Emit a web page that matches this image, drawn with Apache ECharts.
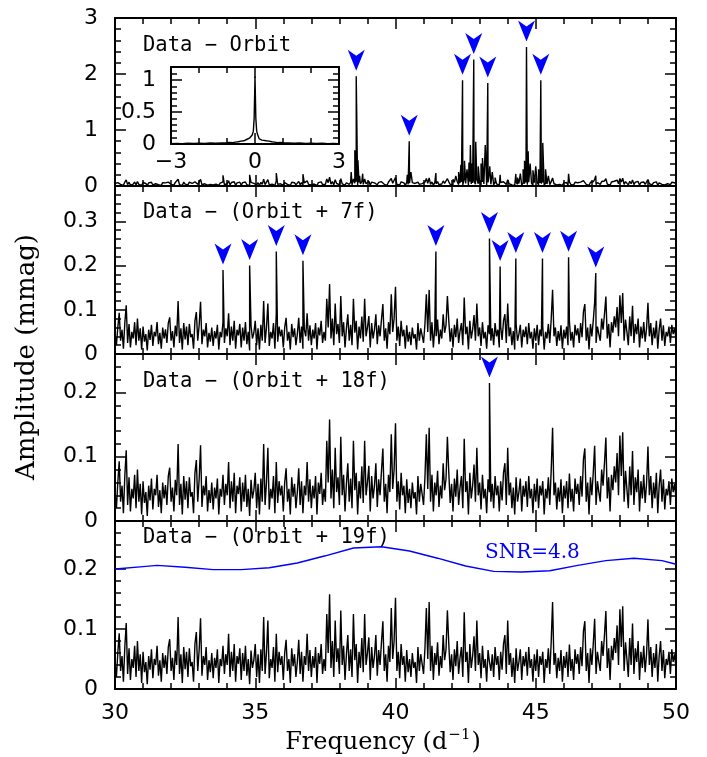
<!DOCTYPE html>
<html>
<head>
<meta charset="utf-8">
<script src="https://cdn.jsdelivr.net/npm/echarts@6/dist/echarts.min.js"></script>
<style>
html, body { margin: 0; padding: 0; background: #fff; }
#chart { width: 707px; height: 757px; }
</style>
</head>
<body>
<div id="chart"></div>
<script>
// residual amplitude spectrum (mmag), 30..50 d-1, step 0.05
var freqStart = 30, freqStep = 0.05;
var noiseAmp = [
  0.045, 0.020, 0.060, 0.093, 0.030, 0.055, 0.012, 0.070, 0.110, 0.025, 0.068, 0.015, 0.050, 0.035, 0.072, 0.020, 0.080, 0.030, 0.058, 0.010,
  0.062, 0.028, 0.045, 0.008, 0.055, 0.032, 0.066, 0.018, 0.050, 0.040, 0.072, 0.022, 0.048, 0.012, 0.060, 0.035, 0.056, 0.025, 0.070, 0.083,
  0.030, 0.052, 0.015, 0.064, 0.040, 0.120, 0.025, 0.058, 0.010, 0.070, 0.033, 0.062, 0.020, 0.068, 0.038, 0.045, 0.012, 0.075, 0.095, 0.030,
  0.065, 0.118, 0.022, 0.055, 0.040, 0.070, 0.015, 0.048, 0.028, 0.060, 0.018, 0.052, 0.035, 0.066, 0.010, 0.050, 0.038, 0.072, 0.025, 0.058,
  0.040, 0.092, 0.020, 0.062, 0.030, 0.075, 0.012, 0.055, 0.042, 0.068, 0.015, 0.060, 0.030, 0.072, 0.022, 0.050, 0.008, 0.064, 0.035, 0.048,
  0.075, 0.020, 0.058, 0.010, 0.066, 0.030, 0.120, 0.025, 0.060, 0.114, 0.018, 0.050, 0.035, 0.070, 0.012, 0.092, 0.028, 0.062, 0.040, 0.055,
  0.015, 0.060, 0.082, 0.030, 0.050, 0.010, 0.068, 0.038, 0.058, 0.020, 0.045, 0.082, 0.025, 0.062, 0.012, 0.055, 0.040, 0.092, 0.030, 0.065,
  0.020, 0.055, 0.035, 0.070, 0.010, 0.060, 0.042, 0.075, 0.025, 0.050, 0.030, 0.125, 0.060, 0.158, 0.035, 0.080, 0.020, 0.114, 0.045, 0.068,
  0.025, 0.131, 0.040, 0.072, 0.015, 0.058, 0.090, 0.030, 0.066, 0.020, 0.125, 0.048, 0.075, 0.010, 0.062, 0.035, 0.085, 0.028, 0.125, 0.040,
  0.060, 0.086, 0.015, 0.070, 0.035, 0.055, 0.090, 0.022, 0.065, 0.040, 0.078, 0.113, 0.030, 0.058, 0.012, 0.072, 0.045, 0.135, 0.050, 0.080,
  0.152, 0.030, 0.062, 0.018, 0.075, 0.040, 0.055, 0.012, 0.065, 0.028, 0.050, 0.020, 0.060, 0.035, 0.045, 0.010, 0.070, 0.030, 0.058, 0.042,
  0.025, 0.068, 0.135, 0.050, 0.145, 0.030, 0.072, 0.015, 0.060, 0.040, 0.078, 0.022, 0.055, 0.035, 0.090, 0.048, 0.065, 0.131, 0.075, 0.028,
  0.058, 0.015, 0.066, 0.038, 0.080, 0.025, 0.052, 0.070, 0.020, 0.128, 0.045, 0.062, 0.010, 0.075, 0.035, 0.055, 0.088, 0.030, 0.114, 0.040,
  0.060, 0.018, 0.072, 0.035, 0.050, 0.012, 0.065, 0.045, 0.030, 0.058, 0.020, 0.070, 0.040, 0.055, 0.015, 0.062, 0.032, 0.075, 0.090, 0.025,
  0.114, 0.040, 0.060, 0.020, 0.052, 0.010, 0.068, 0.030, 0.045, 0.066, 0.015, 0.055, 0.038, 0.062, 0.022, 0.070, 0.035, 0.050, 0.012, 0.058,
  0.030, 0.066, 0.020, 0.055, 0.040, 0.062, 0.010, 0.050, 0.035, 0.068, 0.025, 0.078, 0.145, 0.040, 0.060, 0.018, 0.052, 0.030, 0.065, 0.012,
  0.055, 0.035, 0.062, 0.020, 0.074, 0.030, 0.050, 0.015, 0.066, 0.042, 0.058, 0.025, 0.070, 0.038, 0.096, 0.113, 0.030, 0.060, 0.010, 0.068,
  0.040, 0.075, 0.117, 0.025, 0.062, 0.045, 0.030, 0.080, 0.055, 0.090, 0.130, 0.035, 0.068, 0.015, 0.072, 0.048, 0.085, 0.060, 0.106, 0.040,
  0.133, 0.070, 0.138, 0.030, 0.078, 0.050, 0.020, 0.085, 0.040, 0.109, 0.025, 0.068, 0.045, 0.080, 0.015, 0.062, 0.035, 0.072, 0.028, 0.058,
  0.116, 0.040, 0.070, 0.020, 0.060, 0.035, 0.075, 0.012, 0.055, 0.080, 0.030, 0.065, 0.018, 0.050, 0.040, 0.062, 0.025, 0.066, 0.045, 0.058,
  0.035
];

// orbit-harmonic peaks (panel 1)
var orbitFreq = [38.60, 40.49, 42.39, 42.79, 43.29, 44.67, 45.18];
var orbitAmp  = [1.96, 0.80, 1.89, 2.26, 1.84, 2.48, 1.89];
// window side-lobes around the orbit peaks (panel 1)
var orbitSideFreq = [38.42, 38.50, 38.55, 38.66, 38.72, 38.83, 40.42, 40.55,
  42.05, 42.15, 42.25, 42.33, 42.46, 42.55, 42.62, 42.67, 42.72, 42.86, 42.95, 43.05, 43.10, 43.20, 43.36, 43.45, 43.55,
  44.35, 44.45, 44.55, 44.60, 44.73, 44.80, 44.90, 45.00, 45.10, 45.25, 45.35, 45.45];
var orbitSideAmp  = [0.25, 0.16, 0.64, 0.46, 0.18, 0.22, 0.20, 0.25,
  0.12, 0.18, 0.25, 0.38, 0.45, 0.30, 0.42, 0.73, 0.40, 0.79, 0.35, 0.40, 0.50, 0.73, 0.35, 0.25, 0.15,
  0.15, 0.22, 0.30, 0.45, 0.62, 0.40, 0.28, 0.35, 0.30, 0.77, 0.30, 0.18];

// frequencies removed in panel 2 -> 3 (arrows in panel 2)
var f7Freq = [33.85, 34.80, 35.75, 36.70, 41.44, 43.35, 43.73, 44.29, 45.24, 46.17, 47.14];
var f7Amp  = [0.190, 0.200, 0.232, 0.211, 0.232, 0.261, 0.198, 0.216, 0.216, 0.219, 0.183];
// last frequency (panel 3)
var f18Freq = [43.35];
var f18Amp  = [0.215];

// SNR = 4.8 threshold (panel 4)
var snrFreq = [30, 31, 31.5, 32.5, 33.5, 34.5, 35.5, 36.5, 37.5, 38.5, 39.5, 40.5, 41.5, 42.5, 43.5, 44.5, 45.5, 46.5, 47.5, 48.5, 49.5, 50];
var snrAmp  = [0.200, 0.204, 0.206, 0.203, 0.199, 0.199, 0.202, 0.210, 0.222, 0.235, 0.237, 0.230, 0.218, 0.205, 0.196, 0.195, 0.197, 0.206, 0.214, 0.218, 0.214, 0.208];

// spectral window (inset)
var windowFreq = [-3.0, -2.8, -2.6, -2.4, -2.2, -2.0, -1.8, -1.6, -1.4, -1.2, -1.0, -0.9, -0.8, -0.7, -0.6, -0.5, -0.4, -0.3, -0.25, -0.2, -0.15, -0.1, -0.06, -0.03, 0,
  0.03, 0.06, 0.1, 0.15, 0.2, 0.25, 0.3, 0.4, 0.5, 0.6, 0.7, 0.8, 0.9, 1.0, 1.2, 1.4, 1.6, 1.8, 2.0, 2.2, 2.4, 2.6, 2.8, 3.0];
var windowAmp  = [0.005, 0.01, 0.006, 0.012, 0.008, 0.012, 0.01, 0.015, 0.012, 0.018, 0.02, 0.025, 0.022, 0.03, 0.035, 0.045, 0.05, 0.07, 0.06, 0.09, 0.08, 0.14, 0.20, 0.40, 1.05,
  0.40, 0.20, 0.14, 0.08, 0.09, 0.06, 0.07, 0.05, 0.045, 0.035, 0.03, 0.022, 0.025, 0.02, 0.018, 0.012, 0.015, 0.01, 0.012, 0.008, 0.012, 0.006, 0.01, 0.005];

var panelTitles = ['Data \u2212 Orbit', 'Data \u2212 (Orbit + 7f)', 'Data \u2212 (Orbit + 18f)', 'Data \u2212 (Orbit + 19f)'];
var panelMax = [3, 0.38, 0.26, 0.28];
var panelInterval = [1, 0.1, 0.1, 0.1];

function pairs(fs, as) {
  var out = [];
  for (var i = 0; i < fs.length; i++) out.push([fs[i], as[i]]);
  return out;
}
function spectrum(extras) {
  var pts = [];
  for (var i = 0; i < noiseAmp.length; i++) {
    pts.push([+(freqStart + i * freqStep).toFixed(2), noiseAmp[i]]);
  }
  extras.forEach(function (e) { pts = pts.concat(pairs(e[0], e[1])); });
  pts.sort(function (a, b) { return a[0] - b[0]; });
  return pts;
}

var chart = echarts.init(document.getElementById('chart'), null, { renderer: 'canvas' });

var tops = [18, 186, 354, 521];
var heights = [168, 168, 167, 168];
var grids = [], xAxes = [], yAxes = [], series = [];
var axisFont = { fontFamily: 'DejaVu Sans', fontSize: 22, color: '#000' };
var lineStyle = { color: '#000', width: 2 };
var tickStyle = { color: '#000', width: 1.5 };

function addAxes(g, xmin, xmax, xint, xminor, ymax, yint, showX, showY) {
  xAxes.push({
    gridIndex: g, type: 'value', min: xmin, max: xmax, interval: xint, position: 'bottom',
    axisLine: { onZero: false, lineStyle: lineStyle },
    axisTick: { inside: true, length: 11, lineStyle: tickStyle },
    minorTick: { show: true, splitNumber: xminor, length: 6, lineStyle: tickStyle },
    axisLabel: Object.assign({ show: showX, margin: 13, showMinLabel: true, showMaxLabel: true,
      formatter: function (v) { return String(v).replace('-', '\u2212'); } }, axisFont),
    splitLine: { show: false }
  });
  xAxes.push({
    gridIndex: g, type: 'value', min: xmin, max: xmax, interval: xint, position: 'top',
    axisLine: { onZero: false, lineStyle: lineStyle },
    axisTick: { inside: true, length: 11, lineStyle: tickStyle },
    minorTick: { show: true, splitNumber: xminor, length: 6, lineStyle: tickStyle },
    axisLabel: { show: false }, splitLine: { show: false }
  });
  yAxes.push({
    gridIndex: g, type: 'value', min: 0, max: ymax, interval: yint, position: 'left',
    axisLine: { show: true, onZero: false, lineStyle: lineStyle },
    axisTick: { show: true, inside: true, length: 11, lineStyle: tickStyle },
    minorTick: { show: true, splitNumber: 5, length: 6, lineStyle: tickStyle },
    axisLabel: Object.assign({ show: showY, margin: 17, showMaxLabel: (ymax % yint === 0) }, axisFont),
    splitLine: { show: false }
  });
  yAxes.push({
    gridIndex: g, type: 'value', min: 0, max: ymax, interval: yint, position: 'right',
    axisLine: { show: true, onZero: false, lineStyle: lineStyle },
    axisTick: { show: true, inside: true, length: 11, lineStyle: tickStyle },
    minorTick: { show: true, splitNumber: 5, length: 6, lineStyle: tickStyle },
    axisLabel: { show: false }, splitLine: { show: false }
  });
}

for (var g = 0; g < 4; g++) {
  grids.push({ left: 115, top: tops[g], width: 561, height: heights[g], containLabel: false });
  addAxes(g, 30, 50, 5, 5, panelMax[g], panelInterval[g], g === 3, true);
}
// inset
grids.push({ left: 171, top: 67, width: 168, height: 77, containLabel: false });
addAxes(4, -3, 3, 3, 3, 1.2, 0.5, true, true);
xAxes[8].axisLabel.margin = 7;
yAxes[8].axisLabel.margin = 15;

var arrowPath = 'path://M0,0 L9,6 L18,0 L9,21 Z';
function specSeries(g, data) {
  return {
    type: 'line', xAxisIndex: g * 2, yAxisIndex: g * 2, data: data,
    showSymbol: false, symbol: 'none', silent: true, clip: true,
    lineStyle: { color: '#000', width: 1.4 }
  };
}
function arrowSeries(g, fs, as) {
  return {
    type: 'scatter', xAxisIndex: g * 2, yAxisIndex: g * 2, data: pairs(fs, as),
    symbol: arrowPath, symbolSize: [17, 21], symbolOffset: [0, -16],
    itemStyle: { color: '#0000ff', opacity: 1 }, silent: true
  };
}

series.push(specSeries(0, spectrum([[orbitFreq, orbitAmp], [orbitSideFreq, orbitSideAmp], [f7Freq, f7Amp]])));
series.push(specSeries(1, spectrum([[f7Freq, f7Amp]])));
series.push(specSeries(2, spectrum([[f18Freq, f18Amp]])));
series.push(specSeries(3, spectrum([])));
series.push(specSeries(4, pairs(windowFreq, windowAmp)));
series.push(arrowSeries(0, orbitFreq, orbitAmp));
series.push(arrowSeries(1, f7Freq, f7Amp));
series.push(arrowSeries(2, f18Freq, f18Amp));
series.push({
  type: 'line', xAxisIndex: 6, yAxisIndex: 6, data: pairs(snrFreq, snrAmp),
  showSymbol: false, symbol: 'none', silent: true,
  lineStyle: { color: '#0000ff', width: 1.4 }
});

var titleY = [46, 213, 382, 538];
var graphics = panelTitles.map(function (t, i) {
  return {
    type: 'text', x: 143, y: titleY[i], silent: true,
    style: { text: t, fontFamily: 'DejaVu Sans Mono', fontSize: 20.5, fill: '#000', verticalAlign: 'middle' }
  };
});
graphics.push({
  type: 'text', x: 485, y: 553, silent: true,
  style: { text: 'SNR=4.8', fontFamily: 'DejaVu Serif', fontSize: 20, fill: '#0000ff', verticalAlign: 'middle' }
});
graphics.push({
  type: 'text', x: 27, y: 357, rotation: Math.PI / 2, silent: true,
  style: { text: 'Amplitude (mmag)', fontFamily: 'DejaVu Serif', fontSize: 26, fill: '#000', align: 'center', verticalAlign: 'middle' }
});
graphics.push({
  type: 'text', x: 383, y: 743, silent: true,
  style: {
    text: '{b|Frequency (d}{s|\u22121}{b|)}', align: 'center', verticalAlign: 'middle',
    rich: {
      b: { fontFamily: 'DejaVu Serif', fontSize: 24, fill: '#000', lineHeight: 30 },
      s: { fontFamily: 'DejaVu Serif', fontSize: 15, fill: '#000', verticalAlign: 'top', lineHeight: 30, padding: [0, 1, 0, 1] }
    }
  }
});

chart.setOption({
  animation: false,
  backgroundColor: '#fff',
  grid: grids,
  xAxis: xAxes,
  yAxis: yAxes,
  series: series,
  graphic: graphics
});
</script>
</body>
</html>
